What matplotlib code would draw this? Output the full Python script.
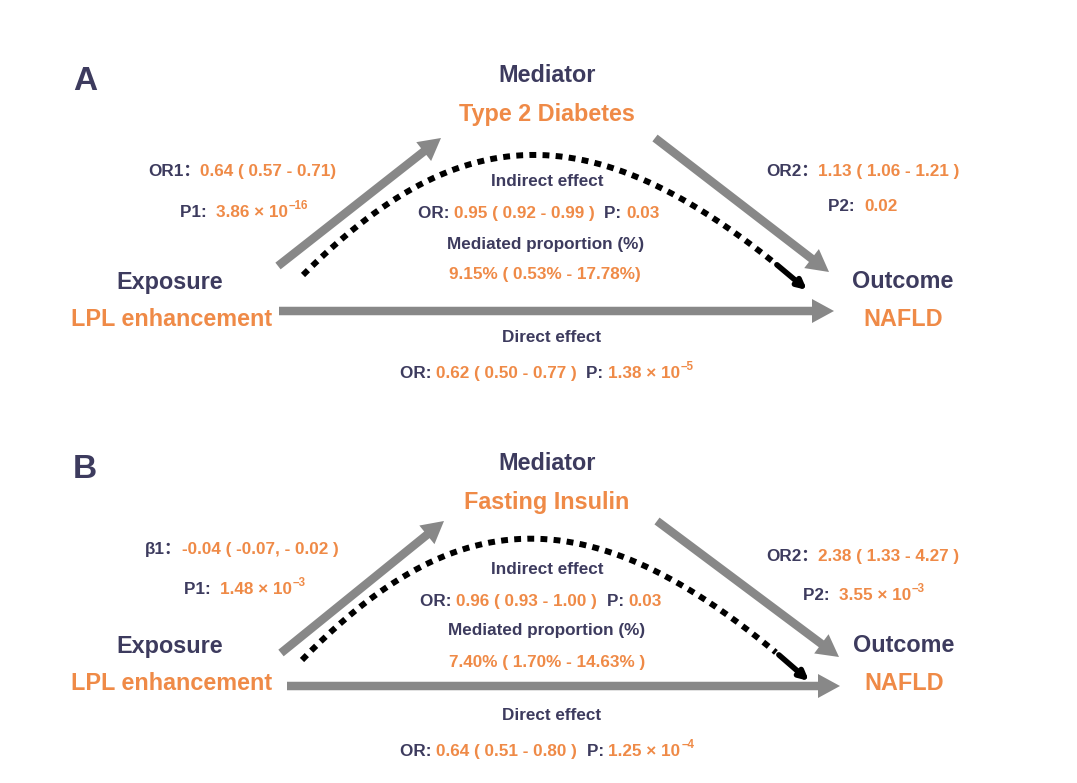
import numpy as np
import matplotlib.pyplot as plt
from matplotlib.patches import FancyArrow

plt.rcParams['font.family'] = ['Liberation Sans', 'Noto Sans CJK SC', 'DejaVu Sans']
plt.rcParams['font.weight'] = 'bold'

DARK = '#3d3b5e'
ORANGE = '#ef8a47'
GRAY = '#888888'

# ---- data (text of the two mediation panels) ----
panels = ['A', 'B']
mediators = ['Type 2 Diabetes', 'Fasting Insulin']
exposure = 'LPL enhancement'
outcome = 'NAFLD'
path1_label = ['OR1：', 'β1：']
path1_est = ['0.64 ( 0.57 - 0.71)', '-0.04 ( -0.07, - 0.02 )']
p1_mant = ['3.86 × 10', '1.48 × 10']
p1_exp = ['–16', '–3']
path2_est = ['1.13 ( 1.06 - 1.21 )', '2.38 ( 1.33 - 4.27 )']
p2_mant = ['0.02', '3.55 × 10']
p2_exp = [None, '–3']
indirect_or = ['0.95 ( 0.92 - 0.99 )', '0.96 ( 0.93 - 1.00 )']
indirect_p = ['0.03', '0.03']
med_prop = ['9.15% ( 0.53% - 17.78%)', '7.40% ( 1.70% - 14.63% )']
direct_or = ['0.62 ( 0.50 - 0.77 )', '0.64 ( 0.51 - 0.80 )']
direct_p_mant = ['1.38 × 10', '1.25 × 10']
direct_p_exp = ['–5', '–4']

# ---- layout (pixel positions of each panel) ----
layout = [
    dict(letter=(85, 81), med=(547, 76), medname=(547, 115),
         expo=(170, 282), lpl=(172, 320), outc=(903, 282), nafld=(903, 320),
         p1=(148, 170), p1p=(180, 211), p2=(766, 170), p2p=(828, 205),
         ind=(547, 182), indor=(418, 212), mp=(546, 244), mpv=(545, 275),
         dir=(552, 337), diror=(400, 372),
         up=((278, 266), (441, 138)), down=((655, 138), (829, 272)),
         hor=((279, 311), (834, 311)),
         curve=((303, 275), (466, 112), (603, 113), (807, 290))),
    dict(letter=(85, 469), med=(547, 464), medname=(547, 502),
         expo=(170, 646), lpl=(172, 684), outc=(904, 646), nafld=(904, 684),
         p1=(145, 548), p1p=(184, 588), p2=(766, 555), p2p=(803, 594),
         ind=(547, 569), indor=(420, 600), mp=(547, 631), mpv=(547, 663),
         dir=(552, 715), diror=(400, 750),
         up=((281, 653), (444, 521)), down=((657, 521), (839, 657)),
         hor=((287, 686), (840, 686)),
         curve=((302, 660), (465, 492), (605, 498), (809, 681))),
]

BIG = 16.8
SMALL = 12.3

fig = plt.figure(figsize=(10.77, 7.83), dpi=100)
ax = fig.add_axes([0, 0, 1, 1])
ax.set_xlim(0, 1077)
ax.set_ylim(783, 0)
ax.axis('off')
renderer = fig.canvas.get_renderer()


def chain(x, y, parts, size=SMALL):
    """line of coloured pieces, kind 's' = superscript; axes units are pixels"""
    base = y + 0.36 * size * 100 / 72
    for txt, col, kind in parts:
        if kind == 's':
            t = ax.text(x + 0.5, base - 8.5, txt, color=col, fontsize=size * 0.68,
                        ha='left', va='baseline')
        else:
            t = ax.text(x, base, txt, color=col, fontsize=size, ha='left', va='baseline')
        x += t.get_window_extent(renderer).width


def arrow(p0, p1):
    (x0, y0), (x1, y1) = p0, p1
    ax.add_patch(FancyArrow(x0, y0, x1 - x0, y1 - y0, width=8.5, head_width=24,
                            head_length=22, length_includes_head=True,
                            color=GRAY, lw=0))


def bez(P, t):
    t = np.asarray(t, float)[..., None]
    return ((1 - t) ** 3 * P[0] + 3 * (1 - t) ** 2 * t * P[1]
            + 3 * (1 - t) * t ** 2 * P[2] + t ** 3 * P[3])


for i, L in enumerate(layout):
    ax.text(*L['letter'], panels[i], fontsize=24, color=DARK, ha='center', va='center')
    ax.text(*L['med'], 'Mediator', fontsize=BIG, color=DARK, ha='center', va='center')
    ax.text(*L['medname'], mediators[i], fontsize=BIG, color=ORANGE, ha='center', va='center')
    ax.text(*L['expo'], 'Exposure', fontsize=BIG, color=DARK, ha='center', va='center')
    ax.text(*L['lpl'], exposure, fontsize=BIG, color=ORANGE, ha='center', va='center')
    ax.text(*L['outc'], 'Outcome', fontsize=BIG, color=DARK, ha='center', va='center')
    ax.text(*L['nafld'], outcome, fontsize=BIG, color=ORANGE, ha='center', va='center')

    chain(*L['p1'], [(path1_label[i], DARK, 'n'), (path1_est[i], ORANGE, 'n')])
    chain(*L['p1p'], [('P1:  ', DARK, 'n'), (p1_mant[i], ORANGE, 'n'), (p1_exp[i], ORANGE, 's')])
    chain(*L['p2'], [('OR2：', DARK, 'n'), (path2_est[i], ORANGE, 'n')])
    p2parts = [('P2:  ', DARK, 'n'), (p2_mant[i], ORANGE, 'n')]
    if p2_exp[i]:
        p2parts.append((p2_exp[i], ORANGE, 's'))
    chain(*L['p2p'], p2parts)

    ax.text(*L['ind'], 'Indirect effect', fontsize=SMALL, color=DARK, ha='center', va='center')
    chain(*L['indor'], [('OR: ', DARK, 'n'), (indirect_or[i] + '  ', ORANGE, 'n'),
                        ('P: ', DARK, 'n'), (indirect_p[i], ORANGE, 'n')])
    ax.text(*L['mp'], 'Mediated proportion (%)', fontsize=SMALL, color=DARK, ha='center', va='center')
    ax.text(*L['mpv'], med_prop[i], fontsize=SMALL, color=ORANGE, ha='center', va='center')
    ax.text(*L['dir'], 'Direct effect', fontsize=SMALL, color=DARK, ha='center', va='center')
    chain(*L['diror'], [('OR: ', DARK, 'n'), (direct_or[i] + '  ', ORANGE, 'n'),
                        ('P: ', DARK, 'n'), (direct_p_mant[i], ORANGE, 'n'),
                        (direct_p_exp[i], ORANGE, 's')])

    arrow(*L['up'])
    arrow(*L['down'])
    arrow(*L['hor'])

    # dotted indirect path (cubic curve) ending in a small black arrow head
    P = np.array(L['curve'], float)
    pts = bez(P, np.linspace(0, 0.945, 300))
    ax.plot(pts[:, 0], pts[:, 1], color='black', lw=4.3,
            linestyle=(0, (1.15, 1.05)), dash_capstyle='butt')
    A0 = bez(P, 0.95)
    ax.annotate('', xy=P[3], xytext=A0,
                arrowprops=dict(arrowstyle='-|>', color='black', lw=4.0,
                                mutation_scale=13, shrinkA=0, shrinkB=0))

fig.savefig('out.png', dpi=100)
